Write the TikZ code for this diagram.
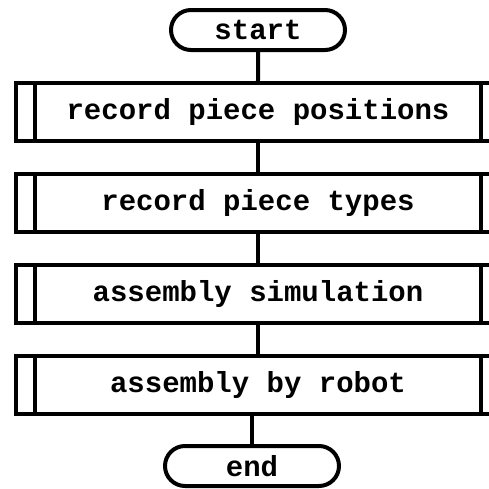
\documentclass[tikz,border=0pt]{standalone}
\usepackage{fontspec}
\setmonofont{Liberation Mono}
\usetikzlibrary{
    positioning,
    shapes.misc
}
\tikzset{
  every node/.style={
    font=\fontsize{14.5}{17}\selectfont\ttfamily\bfseries,
    inner sep=0pt
  },
  terminal/.style={
    draw,
    rounded rectangle,
    minimum width=87pt,
    minimum height=20pt
  },
  subproc/.style={
    draw,
    rectangle,
    minimum width=242pt,
    minimum height=29pt,
    path picture={
      \draw ([xshift=9.5pt]path picture bounding box.north west)
         -- ([xshift=9.5pt]path picture bounding box.south west);
      \draw ([xshift=-9.5pt]path picture bounding box.north east)
         -- ([xshift=-9.5pt]path picture bounding box.south east);
    }
  }
}

\begin{document}
\begin{tikzpicture}[line width=2pt,node distance=14.5pt]

    % 描画範囲
    \useasboundingbox (0,0) rectangle (244.5pt,-244.5pt);
    \clip (0,0) rectangle (244.5pt,-244.5pt);

    % 端子
    \node[terminal] (start) at (129pt,-15pt) {start};

    % 処理
    \node[subproc, below=of start] (pos) {record piece positions};
    \node[subproc, below=of pos] (type) {record piece types};
    \node[subproc, below=of type] (sim) {assembly simulation};
    \node[subproc, below=of sim] (robot) {assembly by robot};

    % 端子
    \node[terminal, below=14pt of robot, xshift=-3pt] (end) {end};

    % 流れ線
    \draw (start) -- (pos);
    \draw (pos) -- (type);
    \draw (type) -- (sim);
    \draw (sim) -- (robot);
    \draw (end.north |- robot.south) -- (end);

\end{tikzpicture}
\end{document}
